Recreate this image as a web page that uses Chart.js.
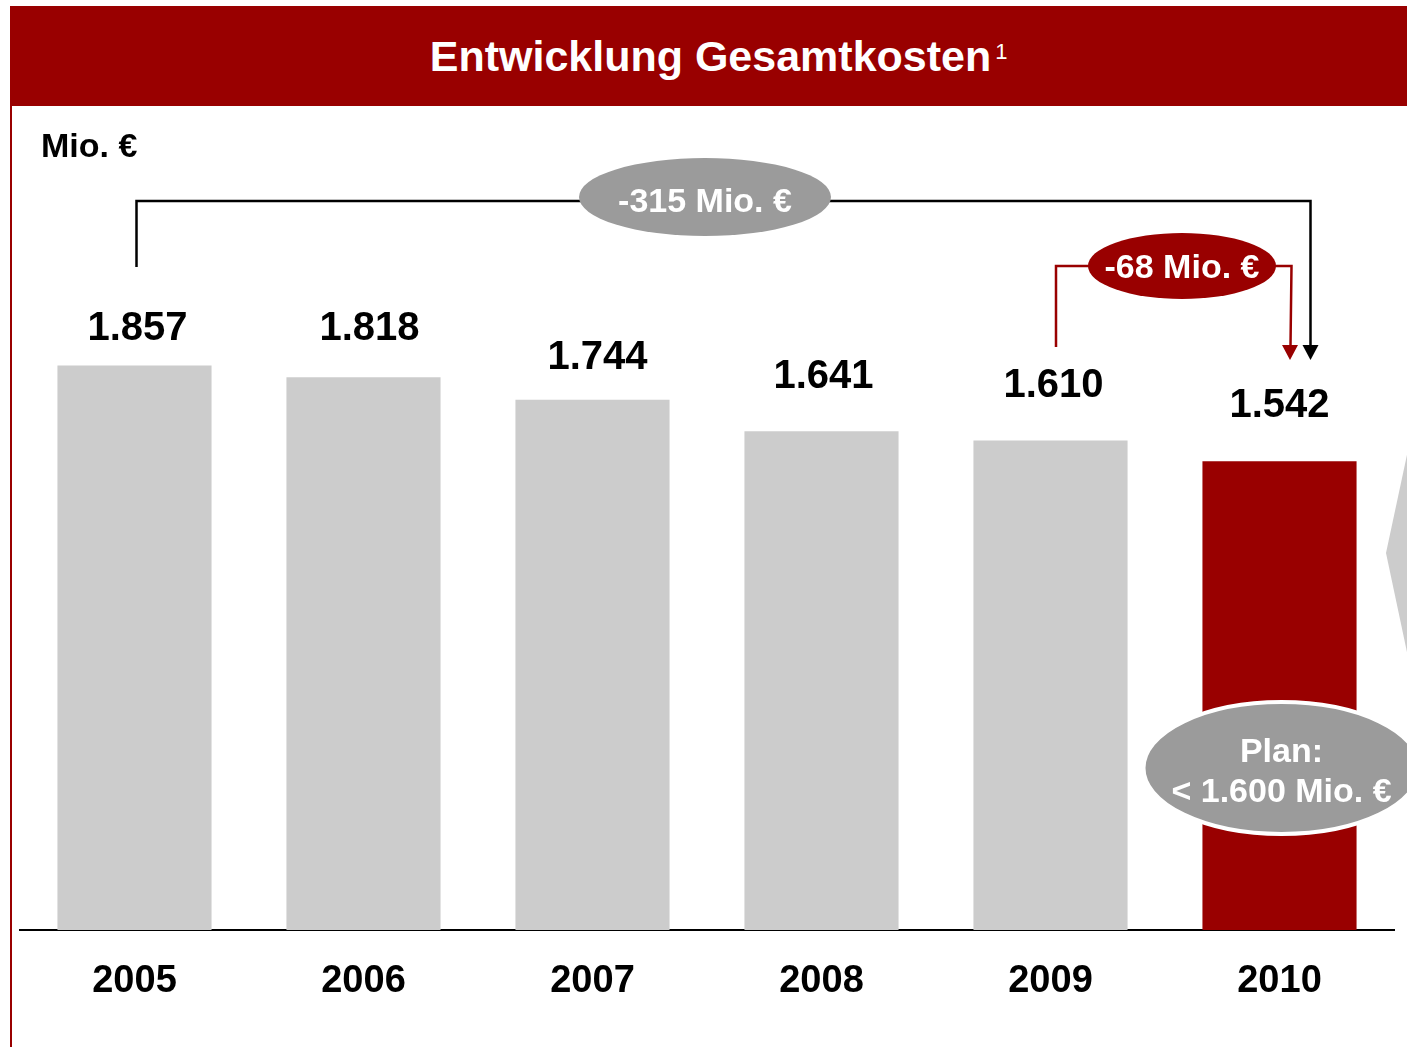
<!DOCTYPE html>
<html>
<head>
<meta charset="utf-8">
<script src="https://cdn.jsdelivr.net/npm/chart.js@4/dist/chart.umd.min.js"></script>
<style>
html,body{margin:0;padding:0;background:#fff;width:1407px;height:1047px;overflow:hidden;font-family:"Liberation Sans",Arial,Helvetica,sans-serif;}
#banner{position:absolute;left:10px;top:6px;width:1397px;height:100px;background:#990000;color:#fff;font-weight:bold;font-size:43px;text-align:center;line-height:100px;white-space:nowrap;}
#banner .t{position:relative;display:inline-block;line-height:100px;padding-left:4px;}
#banner sup{position:absolute;left:100%;top:35px;margin-left:4px;font-size:22px;line-height:22px;font-weight:normal;}
#leftline{position:absolute;left:10px;top:6px;width:2px;height:1041px;background:#990000;}
#c{position:absolute;left:0;top:0;}
</style>
</head>
<body>
<div id="banner"><span class="t">Entwicklung Gesamtkosten<sup>1</sup></span></div>
<div id="leftline"></div>
<canvas id="c" width="1407" height="1047"></canvas>
<script>
// ---- data ----
const years = ['2005', '2006', '2007', '2008', '2009', '2010'];
const costs = [1857, 1818, 1744, 1641, 1610, 1542];
const unitLabel = 'Mio. €';
const totalChangeLabel = '-315 Mio. €';
const lastChangeLabel = '-68 Mio. €';
const planLines = ['Plan:', '< 1.600 Mio. €'];

// ---- styles ----
const barColors = ['#cccccc', '#cccccc', '#cccccc', '#cccccc', '#cccccc', '#990000'];
const labelLift = [25, 37, 31, 43, 44, 44];
const labelShift = [3, 6, 5, 2, 3, 0];
const FONT = '"Liberation Sans", Arial, Helvetica, sans-serif';

function fmt(v) {
  return Math.floor(v / 1000) + '.' + String(v % 1000).padStart(3, '0');
}

function ellipse(ctx, cx, cy, rx, ry, fill, stroke, lw) {
  ctx.beginPath();
  ctx.ellipse(cx, cy, rx, ry, 0, 0, Math.PI * 2);
  ctx.fillStyle = fill;
  ctx.fill();
  if (stroke) { ctx.lineWidth = lw; ctx.strokeStyle = stroke; ctx.stroke(); }
}
function arrowDown(ctx, x, tipY, color) {
  ctx.beginPath();
  ctx.moveTo(x - 8, tipY - 15);
  ctx.lineTo(x + 8, tipY - 15);
  ctx.lineTo(x, tipY);
  ctx.closePath();
  ctx.fillStyle = color;
  ctx.fill();
}

const annotations = {
  id: 'annotations',
  afterDatasetsDraw(chart) {
    const ctx = chart.ctx;
    const bars = chart.getDatasetMeta(0).data;
    ctx.save();

    // value labels
    ctx.font = 'bold 40px ' + FONT;
    ctx.fillStyle = '#000';
    ctx.textAlign = 'center';
    ctx.textBaseline = 'alphabetic';
    bars.forEach((b, i) => ctx.fillText(fmt(costs[i]), b.x + labelShift[i], b.y - labelLift[i]));

    // unit
    ctx.font = 'bold 34px ' + FONT;
    ctx.textAlign = 'left';
    ctx.fillText(unitLabel, 41, 157);

    // black bracket (2005 -> 2010)
    const xa = bars[0].x + 2, xb = bars[5].x + 31;
    ctx.strokeStyle = '#000';
    ctx.lineWidth = 2.5;
    ctx.beginPath();
    ctx.moveTo(xa, 267); ctx.lineTo(xa, 201); ctx.lineTo(xb, 201); ctx.lineTo(xb, 346);
    ctx.stroke();
    arrowDown(ctx, xb, 360, '#000');
    ellipse(ctx, 705, 197, 126, 39, '#9b9b9b');
    ctx.font = 'bold 34px ' + FONT;
    ctx.fillStyle = '#fff';
    ctx.textAlign = 'center';
    ctx.fillText(totalChangeLabel, 705, 212);

    // red bracket (2009 -> 2010)
    const xc = bars[4].x + 5.5, xd = bars[5].x + 12;
    ctx.strokeStyle = '#990000';
    ctx.lineWidth = 2.5;
    ctx.beginPath();
    ctx.moveTo(xc, 347); ctx.lineTo(xc, 266); ctx.lineTo(1100, 266);
    ctx.stroke();
    ctx.beginPath();
    ctx.moveTo(1265, 266); ctx.lineTo(xd, 266); ctx.lineTo(xd - 1, 346);
    ctx.stroke();
    arrowDown(ctx, xd - 1.5, 360, '#990000');
    ellipse(ctx, 1182, 266, 94, 33, '#990000');
    ctx.fillStyle = '#fff';
    ctx.fillText(lastChangeLabel, 1182, 278);

    // grey chevron at right edge
    ctx.beginPath();
    ctx.moveTo(1408, 450); ctx.lineTo(1386, 553); ctx.lineTo(1408, 657);
    ctx.closePath();
    ctx.fillStyle = '#cccccc';
    ctx.fill();

    // plan ellipse
    ellipse(ctx, bars[5].x + 2, 768, 138, 66, '#9b9b9b', '#ffffff', 4);
    ctx.fillStyle = '#fff';
    ctx.font = 'bold 34px ' + FONT;
    ctx.fillText(planLines[0], bars[5].x + 2, 762);
    ctx.fillText(planLines[1], bars[5].x + 2, 802);

    ctx.restore();
  }
};

new Chart(document.getElementById('c'), {
  type: 'bar',
  data: {
    labels: years,
    datasets: [{
      data: costs,
      backgroundColor: barColors,
      borderWidth: 0,
      barPercentage: 0.673,
      categoryPercentage: 1.0
    }]
  },
  options: {
    responsive: false,
    animation: false,
    devicePixelRatio: 1,
    layout: { padding: { top: 170, left: 20, right: 13, bottom: 0 } },
    plugins: { legend: { display: false }, tooltip: { enabled: false }, title: { display: false } },
    scales: {
      x: {
        grid: { display: false, drawTicks: false },
        border: { display: true, color: '#000', width: 2 },
        ticks: {
          color: '#000',
          padding: 29,
          font: { family: FONT, size: 38, weight: 'bold' }
        },
        afterFit(s) { s.height = 117; }
      },
      y: { display: false, min: 0, max: 2500 }
    }
  },
  plugins: [annotations]
});
</script>
</body>
</html>
